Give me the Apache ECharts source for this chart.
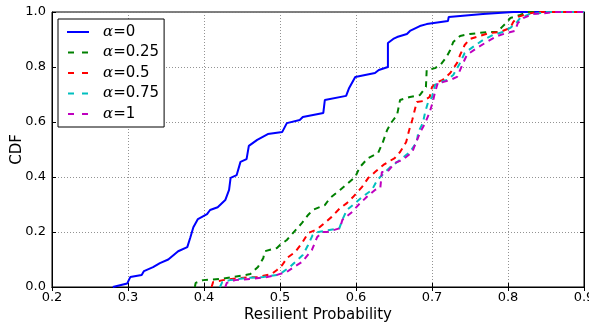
<!DOCTYPE html>
<html><head><meta charset="utf-8">
<script src="https://cdn.jsdelivr.net/npm/echarts@6/dist/echarts.min.js"></script>
<style>html,body{margin:0;padding:0;background:#fff}#c{width:589px;height:324px}</style>
</head><body><div id="c"></div>
<script>
const seriesNames = ['0', '0.25', '0.5', '0.75', '1'];
const colors = ['#0000ff', '#008000', '#ff0000', '#00bfbf', '#bf00bf'];

const a0X = [0.280,0.299,0.303,0.318,0.321,0.333,0.342,0.353,0.366,0.378,0.382,0.386,0.392,0.404,0.408,0.418,0.428,0.433,0.435,0.443,0.448,0.456,0.459,0.470,0.484,0.503,0.509,0.526,0.530,0.557,0.559,0.587,0.591,0.599,0.625,0.630,0.642,0.642,0.649,0.654,0.667,0.671,0.684,0.693,0.721,0.722,0.767,0.807,0.9];
const a0Y = [0.0,0.013,0.036,0.044,0.058,0.072,0.087,0.10,0.13,0.145,0.18,0.217,0.247,0.265,0.28,0.29,0.316,0.353,0.397,0.407,0.455,0.465,0.513,0.535,0.556,0.564,0.596,0.607,0.618,0.633,0.68,0.695,0.724,0.764,0.778,0.789,0.80,0.887,0.902,0.909,0.92,0.931,0.949,0.956,0.967,0.982,0.993,1.0,1.0];

const a25X = [0.388,0.389,0.399,0.421,0.438,0.461,0.471,0.478,0.480,0.496,0.500,0.509,0.517,0.529,0.537,0.543,0.559,0.566,0.579,0.599,0.605,0.616,0.629,0.635,0.641,0.647,0.654,0.658,0.671,0.684,0.692,0.693,0.704,0.711,0.719,0.724,0.728,0.737,0.750,0.772,0.786,0.792,0.799,0.803,0.816,0.825,0.9];
const a25Y = [0.0,0.015,0.025,0.029,0.036,0.047,0.073,0.105,0.13,0.142,0.153,0.171,0.196,0.233,0.262,0.28,0.298,0.324,0.353,0.40,0.436,0.469,0.487,0.524,0.571,0.60,0.625,0.68,0.691,0.698,0.727,0.789,0.796,0.807,0.836,0.862,0.891,0.913,0.92,0.927,0.927,0.945,0.964,0.978,0.989,1.0,1.0];

const a50X = [0.410,0.412,0.425,0.447,0.470,0.489,0.496,0.503,0.509,0.520,0.529,0.537,0.549,0.568,0.579,0.588,0.596,0.608,0.616,0.625,0.636,0.651,0.658,0.666,0.670,0.674,0.680,0.688,0.697,0.700,0.707,0.714,0.724,0.733,0.737,0.743,0.750,0.763,0.776,0.789,0.803,0.807,0.813,0.825,0.838,0.9];
const a50Y = [0.0,0.018,0.025,0.033,0.036,0.047,0.062,0.08,0.105,0.127,0.16,0.196,0.21,0.255,0.287,0.305,0.327,0.364,0.396,0.418,0.444,0.469,0.491,0.527,0.571,0.607,0.673,0.676,0.691,0.727,0.745,0.753,0.778,0.815,0.844,0.88,0.902,0.913,0.924,0.927,0.942,0.964,0.982,0.993,1.0,1.0];

const a75X = [0.421,0.424,0.434,0.456,0.478,0.496,0.504,0.513,0.520,0.530,0.537,0.543,0.550,0.565,0.578,0.582,0.588,0.599,0.608,0.621,0.628,0.645,0.658,0.671,0.680,0.682,0.688,0.691,0.695,0.700,0.704,0.711,0.720,0.728,0.737,0.743,0.754,0.767,0.780,0.793,0.803,0.812,0.816,0.829,0.842,0.850,0.9];
const a75Y = [0.0,0.018,0.025,0.033,0.036,0.044,0.055,0.073,0.091,0.116,0.153,0.189,0.20,0.207,0.213,0.244,0.28,0.305,0.327,0.353,0.389,0.436,0.462,0.491,0.527,0.564,0.596,0.636,0.673,0.69,0.735,0.745,0.753,0.771,0.815,0.851,0.873,0.898,0.916,0.927,0.942,0.964,0.978,0.993,0.996,1.0,1.0];

const a100X = [0.428,0.430,0.441,0.461,0.483,0.496,0.509,0.520,0.529,0.542,0.549,0.556,0.562,0.579,0.582,0.595,0.603,0.614,0.625,0.632,0.634,0.641,0.651,0.661,0.674,0.684,0.691,0.697,0.701,0.704,0.708,0.714,0.724,0.733,0.741,0.746,0.759,0.772,0.786,0.799,0.809,0.813,0.820,0.833,0.851,0.860,0.9];
const a100Y = [0.0,0.015,0.025,0.029,0.036,0.044,0.055,0.076,0.091,0.135,0.182,0.20,0.20,0.214,0.244,0.273,0.298,0.327,0.353,0.36,0.418,0.418,0.451,0.462,0.491,0.56,0.596,0.636,0.673,0.709,0.745,0.745,0.753,0.764,0.815,0.844,0.869,0.891,0.913,0.924,0.931,0.96,0.978,0.993,0.996,1.0,1.0];

const xTicks = [0.2,0.3,0.4,0.5,0.6,0.7,0.8,0.9];
const yTicks = [0.0,0.2,0.4,0.6,0.8,1.0];

const allX = [a0X, a25X, a50X, a75X, a100X];
const allY = [a0Y, a25Y, a50Y, a75Y, a100Y];

const chart = echarts.init(document.getElementById('c'), null, {renderer: 'canvas'});
const font = 'DejaVu Sans';
const fmt = v => v.toFixed(1);

// legend icons: solid bar or two dashes
const solidIcon = 'path://M0,0 L22,0 L22,2 L0,2 Z';
const dashIcon = 'path://M0,0 L6,0 L6,2 L0,2 Z M14,0 L20,0 L20,2 L14,2 Z';

const series = seriesNames.map((n, i) => ({
  name: n,
  type: 'line',
  showSymbol: false,
  symbol: 'none',
  animation: false,
  data: allX[i].map((x, j) => [x, allY[i][j]]),
  lineStyle: {color: colors[i], width: 2, type: i === 0 ? 'solid' : [6, 5]},
  itemStyle: {color: colors[i]},
  z: 3 + i
}));

const gridLine = {show: true, lineStyle: {color: '#777', width: 0.8, type: [1, 2]}};

chart.setOption({
  animation: false,
  backgroundColor: '#fff',
  grid: {left: 52, right: 5, top: 12, bottom: 37, show: true, borderColor: '#000', borderWidth: 1, containLabel: false, outerBoundsMode: 'none'},
  xAxis: [{
    type: 'value', min: 0.2, max: 0.9, interval: 0.1,
    name: 'Resilient Probability', nameLocation: 'middle', nameGap: 21, nameMoveOverlap: false,
    nameTextStyle: {fontFamily: font, fontSize: 15, color: '#000'},
    axisLine: {show: true, lineStyle: {color: '#000', width: 1}},
    axisTick: {show: true, inside: true, length: 4, lineStyle: {color: '#000'}},
    axisLabel: {formatter: fmt, fontFamily: font, fontSize: 13, color: '#000', margin: 4},
    splitLine: gridLine
  }, {
    type: 'value', position: 'top', min: 0.2, max: 0.9, interval: 0.1,
    axisLine: {show: true, lineStyle: {color: '#000', width: 1}},
    axisTick: {show: true, inside: true, length: 4, lineStyle: {color: '#000'}},
    axisLabel: {show: false}, splitLine: {show: false}
  }],
  yAxis: [{
    type: 'value', min: 0, max: 1, interval: 0.2,
    name: 'CDF', nameLocation: 'middle', nameGap: 27, nameMoveOverlap: false,
    nameTextStyle: {fontFamily: font, fontSize: 15, color: '#000'},
    axisLine: {show: true, lineStyle: {color: '#000', width: 1}},
    axisTick: {show: true, inside: true, length: 4, lineStyle: {color: '#000'}},
    axisLabel: {formatter: fmt, fontFamily: font, fontSize: 13, color: '#000', margin: 6},
    splitLine: gridLine
  }, {
    type: 'value', position: 'right', min: 0, max: 1, interval: 0.2,
    axisLine: {show: true, lineStyle: {color: '#000', width: 1}},
    axisTick: {show: true, inside: true, length: 4, lineStyle: {color: '#000'}},
    axisLabel: {show: false}, splitLine: {show: false}
  }],
  legend: {
    orient: 'vertical', left: 58, top: 19,
    backgroundColor: '#fff', borderColor: '#000', borderWidth: 1, borderRadius: 0,
    padding: [4, 5, 4, 9],
    itemWidth: 22, itemHeight: 2, itemGap: 2.5,
    data: seriesNames.map((n, i) => ({name: n, icon: i === 0 ? solidIcon : dashIcon})),
    formatter: n => '{a|α}=' + n,
    textStyle: {
      fontFamily: font, fontSize: 15, color: '#000', lineHeight: 18, padding: [0, 0, 0, 9],
      rich: {a: {fontFamily: 'DejaVu Serif', fontStyle: 'italic', fontSize: 15, color: '#000'}}
    }
  },
  series: series
});
</script></body></html>
